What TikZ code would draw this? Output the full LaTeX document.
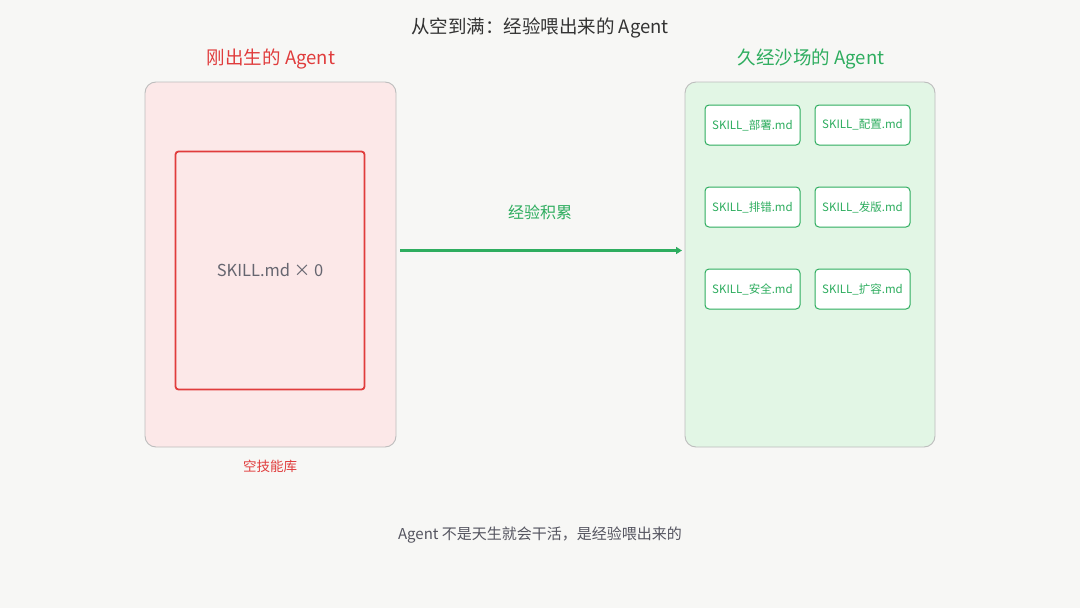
\documentclass[tikz,border=0pt]{standalone}
\usepackage{fontspec}
\setmainfont{Noto Sans CJK SC}
\usetikzlibrary{arrows.meta}
\definecolor{bg}{HTML}{F7F7F5}
\definecolor{redc}{HTML}{E03C3C}
\definecolor{greenc}{HTML}{2EAD5F}
\definecolor{pinkfill}{HTML}{FCE8E8}
\definecolor{greenfill}{HTML}{E2F6E5}
\definecolor{panelborder}{HTML}{BDBDBD}
\definecolor{titlec}{HTML}{333333}
\definecolor{footc}{HTML}{555560}
\definecolor{skillgray}{HTML}{666670}
\tikzset{
  panel/.style={draw=panelborder, line width=0.9pt, rounded corners=11pt},
  skillbox/.style={draw=greenc, fill=white, line width=1pt, rounded corners=4pt},
  lbl/.style={inner sep=0pt, anchor=center},
}
\begin{document}
\begin{tikzpicture}[x=1pt,y=-1pt]
\fill[bg] (0,0) rectangle (1080,608);
\useasboundingbox (0,0) rectangle (1080,608);

\node[lbl, text=titlec, font=\fontsize{18.5}{21}\selectfont] (title) at (540,28) {从空到满：经验喂出来的 Agent};

% left side
\node[lbl, text=redc, font=\fontsize{18.5}{21}\selectfont] (lhead) at (271,59) {刚出生的 Agent};
\draw[panel, fill=pinkfill] (145,82) rectangle (396,447);
\draw[draw=redc, line width=1.8pt, rounded corners=3pt] (175.5,151.5) rectangle (364.5,389.5);
\node[lbl, text=skillgray, font=\fontsize{16.5}{20}\selectfont] (zero) at (270,270) {SKILL.md × 0};
\node[lbl, text=redc, font=\fontsize{13.5}{16}\selectfont] (lcap) at (270,466) {空技能库};

% arrow
\coordinate (arrS) at (400,250.5);
\coordinate (arrE) at (682,250.5);
\draw[greenc, line width=3pt, -{Triangle[length=6pt,width=7pt]}] (arrS) -- (arrE);
\node[lbl, text=greenc, font=\fontsize{16}{19}\selectfont] (arrlbl) at (540,212) {经验积累};

% right side
\node[lbl, text=greenc, font=\fontsize{18.5}{21}\selectfont] (rhead) at (811,59) {久经沙场的 Agent};
\draw[panel, fill=greenfill] (685,82) rectangle (935,447);

\foreach \nm/\x/\y/\t in {a/705/105/部署, b/815/105/配置, c/705/187/排错, d/815/187/发版, e/705/269/安全, f/815/269/扩容}{
  \draw[skillbox] (\x,\y) rectangle ++(95,40);
  \node[lbl, text=greenc, font=\fontsize{11.5}{14}\selectfont] (s\nm) at (\x+47.5,\y+20) {SKILL\_\t.md};
}

\node[lbl, text=footc, font=\fontsize{15}{18}\selectfont] (foot) at (540,535) {Agent 不是天生就会干活，是经验喂出来的};
\end{tikzpicture}
\end{document}
